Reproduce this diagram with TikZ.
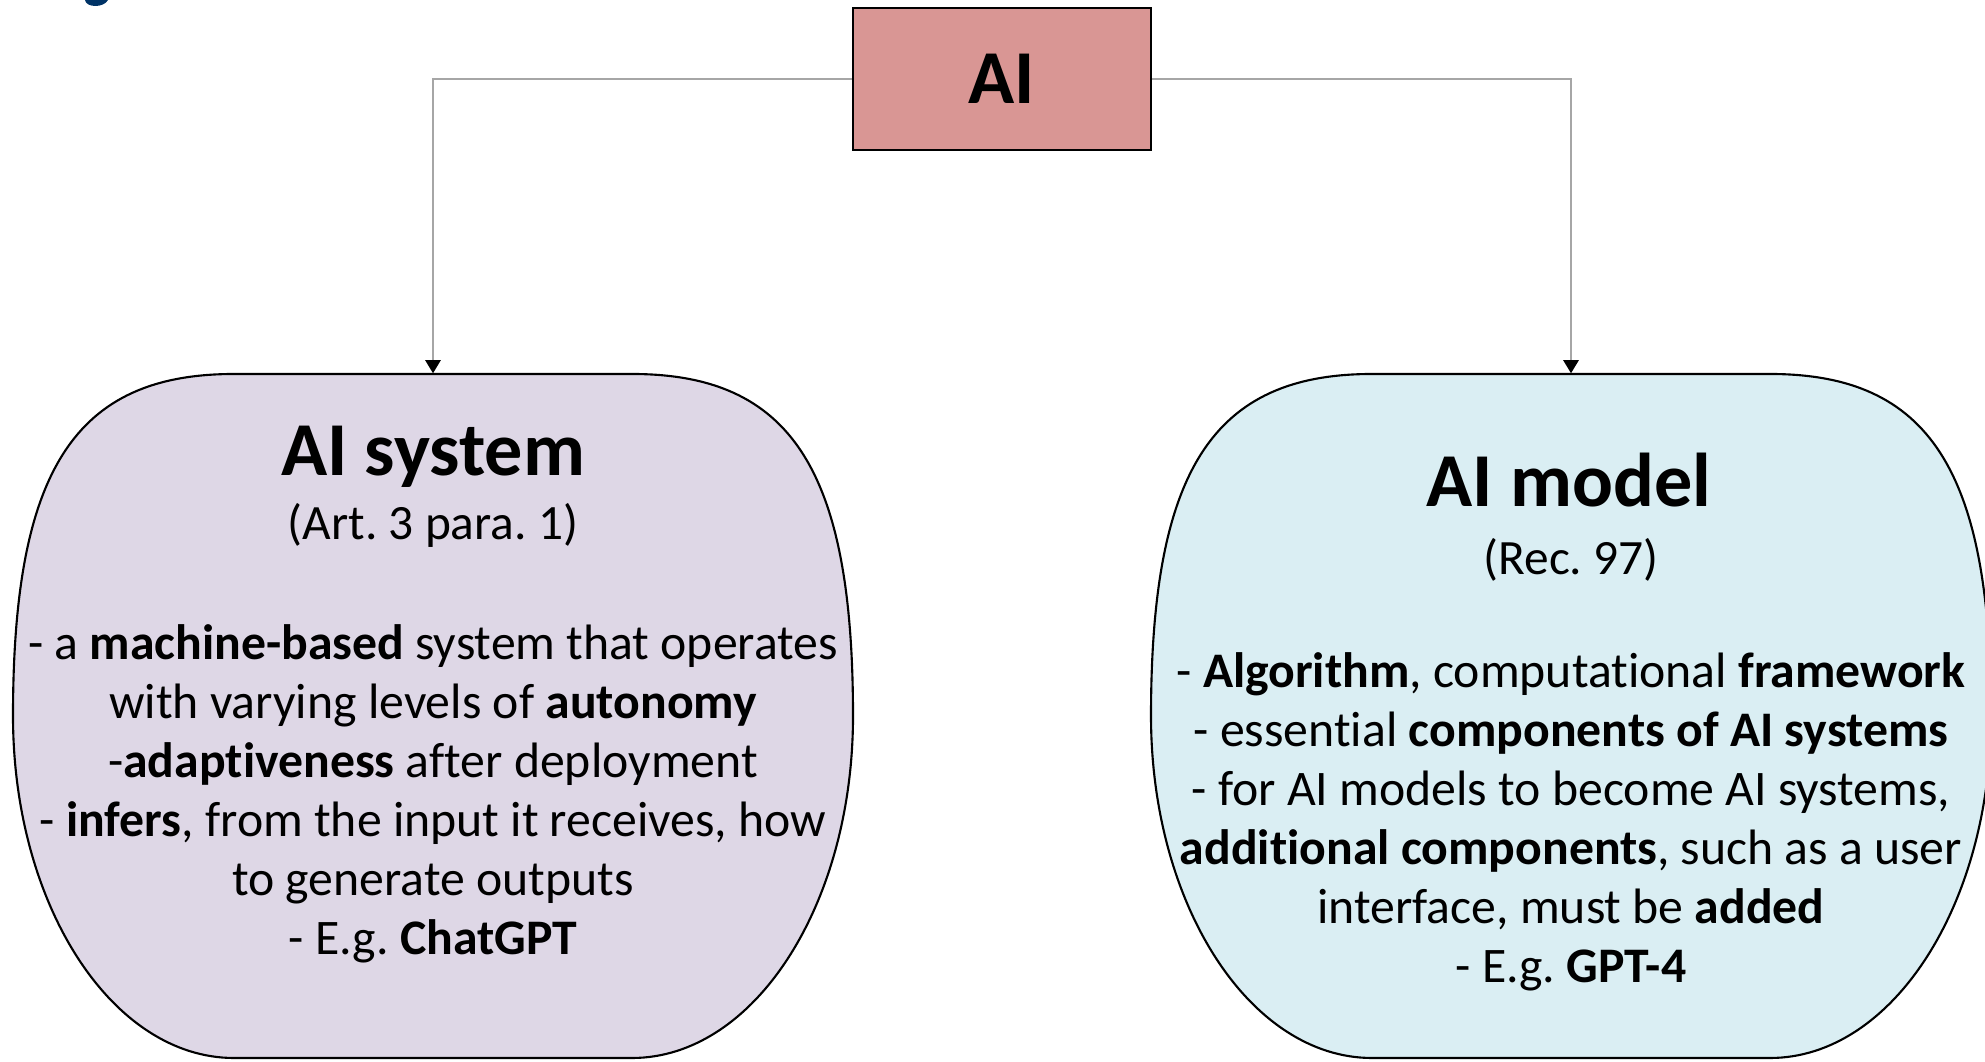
\documentclass[tikz,border=0pt]{standalone}
\usepackage{fontspec}
\setmainfont{Carlito}[Ligatures={NoCommon,NoContextual,NoRare},Contextuals=NoAlternate]
\usetikzlibrary{arrows.meta}

\definecolor{aired}{HTML}{D99694}
\definecolor{syspurple}{HTML}{DED7E6}
\definecolor{modblue}{HTML}{DAEEF3}
\definecolor{linkgray}{HTML}{A6A6A6}
\definecolor{headblue}{HTML}{003366}

% plain "ti" letter pair (keeps the font from joining the two glyphs)
\newcommand\tii{t\kern0pt i}

% outline of a rounded block, relative to its centre (units: px);
% fuller shoulders at the top, elliptical corners at the bottom
\newcommand\blobpath{(-199,-342) -- (199,-342)
  .. controls (358,-342) and (420,-246) .. (420,0)
  .. controls (420,189) and (321,342) .. (199,342)
  -- (-199,342)
  .. controls (-321,342) and (-420,189) .. (-420,0)
  .. controls (-420,-246) and (-358,-342) .. cycle}

\begin{document}
\frenchspacing
\begin{tikzpicture}[x=0.2835pt,y=-0.2835pt,
  blob/.style={draw=black,line width=0.6pt},
  frame/.style={inner sep=0pt,minimum width=238.14pt,minimum height=193.9pt},
  title/.style={font=\fontsize{21.6}{26}\selectfont\bfseries,anchor=base,inner sep=0pt},
  subtitle/.style={font=\fontsize{14}{17}\selectfont,anchor=base,inner sep=0pt},
  body/.style={font=\fontsize{14.1}{17}\selectfont,anchor=base,inner sep=0pt},
  link/.style={draw=linkgray,line width=0.55pt,-{Triangle[length=3.7pt,width=4.3pt,color=black]}}
]
\useasboundingbox (0,0) rectangle (1985,1062);
\fill[white] (0,0) rectangle (1985,1062);

% piece of a heading at the top edge
\fill[headblue] (85,0) .. controls (86,8) and (104,8) .. (108,0) -- cycle;

% block frames (invisible) and their outlines
\node[frame] (sys) at (433,716) {};
\node[frame] (mod) at (1571,716) {};
\filldraw[blob,fill=syspurple,shift={(433,716)}] \blobpath;
\filldraw[blob,fill=modblue,shift={(1571,716)}] \blobpath;

% top box
\node[draw=black,line width=0.6pt,fill=aired,minimum width=84.5pt,minimum height=40.3pt,
      inner sep=0pt,font=\fontsize{21.6}{26}\selectfont\bfseries] (ai) at (1002,79) {AI};

% connectors
\draw[link] (ai.west) -| (sys.north);
\draw[link] (ai.east) -| (mod.north);

% left block text
\node[title] (systitle) at (433,476) {AI system};
\node[subtitle] (sysref) at (433,540) {(Art. 3 para. 1)};
\node[body] (s1) at (433,660) {- a \textbf{machine-based} system that operates};
\node[body] (s2) at (433,719) {with varying levels of \textbf{autonomy}};
\node[body] (s3) at (433,778) {-\textbf{adap\tii veness} after deployment};
\node[body] (s4) at (433,837) {- \textbf{infers}, from the input it receives, how};
\node[body] (s5) at (433,896) {to generate outputs};
\node[body] (s6) at (433,955) {- E.g. \textbf{ChatGPT}};

% right block text
\node[title] (modtitle) at (1569,507) {AI model};
\node[subtitle] (modref) at (1571,575) {(Rec. 97)};
\node[body] (m1) at (1571,688) {- \textbf{Algorithm}, computa\tii onal \textbf{framework}};
\node[body] (m2) at (1571,747) {- essen\tii al \textbf{components of AI systems}};
\node[body] (m3) at (1571,806) {- for AI models to become AI systems,};
\node[body] (m4) at (1571,865) {\textbf{addi\tii onal components}, such as a user};
\node[body] (m5) at (1571,924) {interface, must be \textbf{added}};
\node[body] (m6) at (1571,983) {- E.g. \textbf{GPT-4}};
\end{tikzpicture}
\end{document}
